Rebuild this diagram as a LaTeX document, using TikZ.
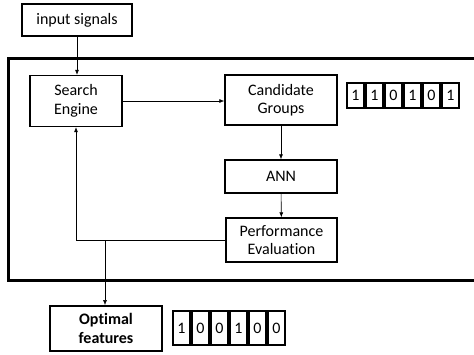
\documentclass[tikz,border=0pt]{standalone}
\usepackage{fontspec}
\setmainfont{Carlito}[Ligatures=NoCommon]
\usetikzlibrary{calc, positioning, arrows.meta}

\begin{document}
\begin{tikzpicture}[x=1pt, y=-1pt,
  block/.style={draw, line width=1.4pt, align=center, inner sep=0pt,
    font=\fontsize{16}{18.5}\selectfont},
  bitcell/.style={draw, line width=1.2pt, minimum width=17pt, inner sep=0pt,
    font=\fontsize{16}{18.5}\selectfont},
  flow/.style={-{Latex[length=5pt, width=4pt]}, line width=0.6pt}]
  \path[use as bounding box, clip] (0,0) rectangle (474,354);

  % Outer frame
  \draw[line width=3pt] (8,58) rectangle (490,280);

  % Blocks
  \node[block, minimum width=110pt, minimum height=32pt] (input) at (77,20) {input signals};
  \node[block, minimum width=92pt, minimum height=51pt] (search) at (76,101) {Search\\Engine};
  \node[block, minimum width=112pt, minimum height=50pt] (cand) at (281,100) {Candidate\\Groups};
  \node[block, minimum width=112pt, minimum height=33pt] (ann) at (281,176.5) {ANN};
  \node[block, minimum width=111pt, minimum height=44pt] (perf) at (281.5,240) {Performance\\Evaluation};
  \node[block, line width=1.8pt, minimum width=112pt, minimum height=45pt,
    font=\fontsize{16}{18.5}\selectfont\bfseries] (optimal) at (106,328.5) {Optimal\\features};

  % Bit strings
  \foreach \b [count=\i from 0] in {1,1,0,1,0,1} {
    \node[bitcell, minimum height=25pt] (top\i) at (355.5+19*\i,95.5) {\b};
  }
  \foreach \b [count=\i from 0] in {1,0,0,1,0,0} {
    \node[bitcell, minimum height=34pt] (bot\i) at (181.5+19*\i,328) {\b};
  }

  % Connections
  \draw[flow] (input.south) -- (input.south |- search.north);
  \draw[flow] (search.east) -- (search.east -| cand.west);
  \draw[flow] (cand) -- (ann);
  \draw[flow] (ann) -- (perf);
  \draw[flow] (perf.west) -| (search.south);
  \coordinate (split) at (105,240);
  \draw[flow] (split) -- (split |- optimal.north);
\end{tikzpicture}
\end{document}
